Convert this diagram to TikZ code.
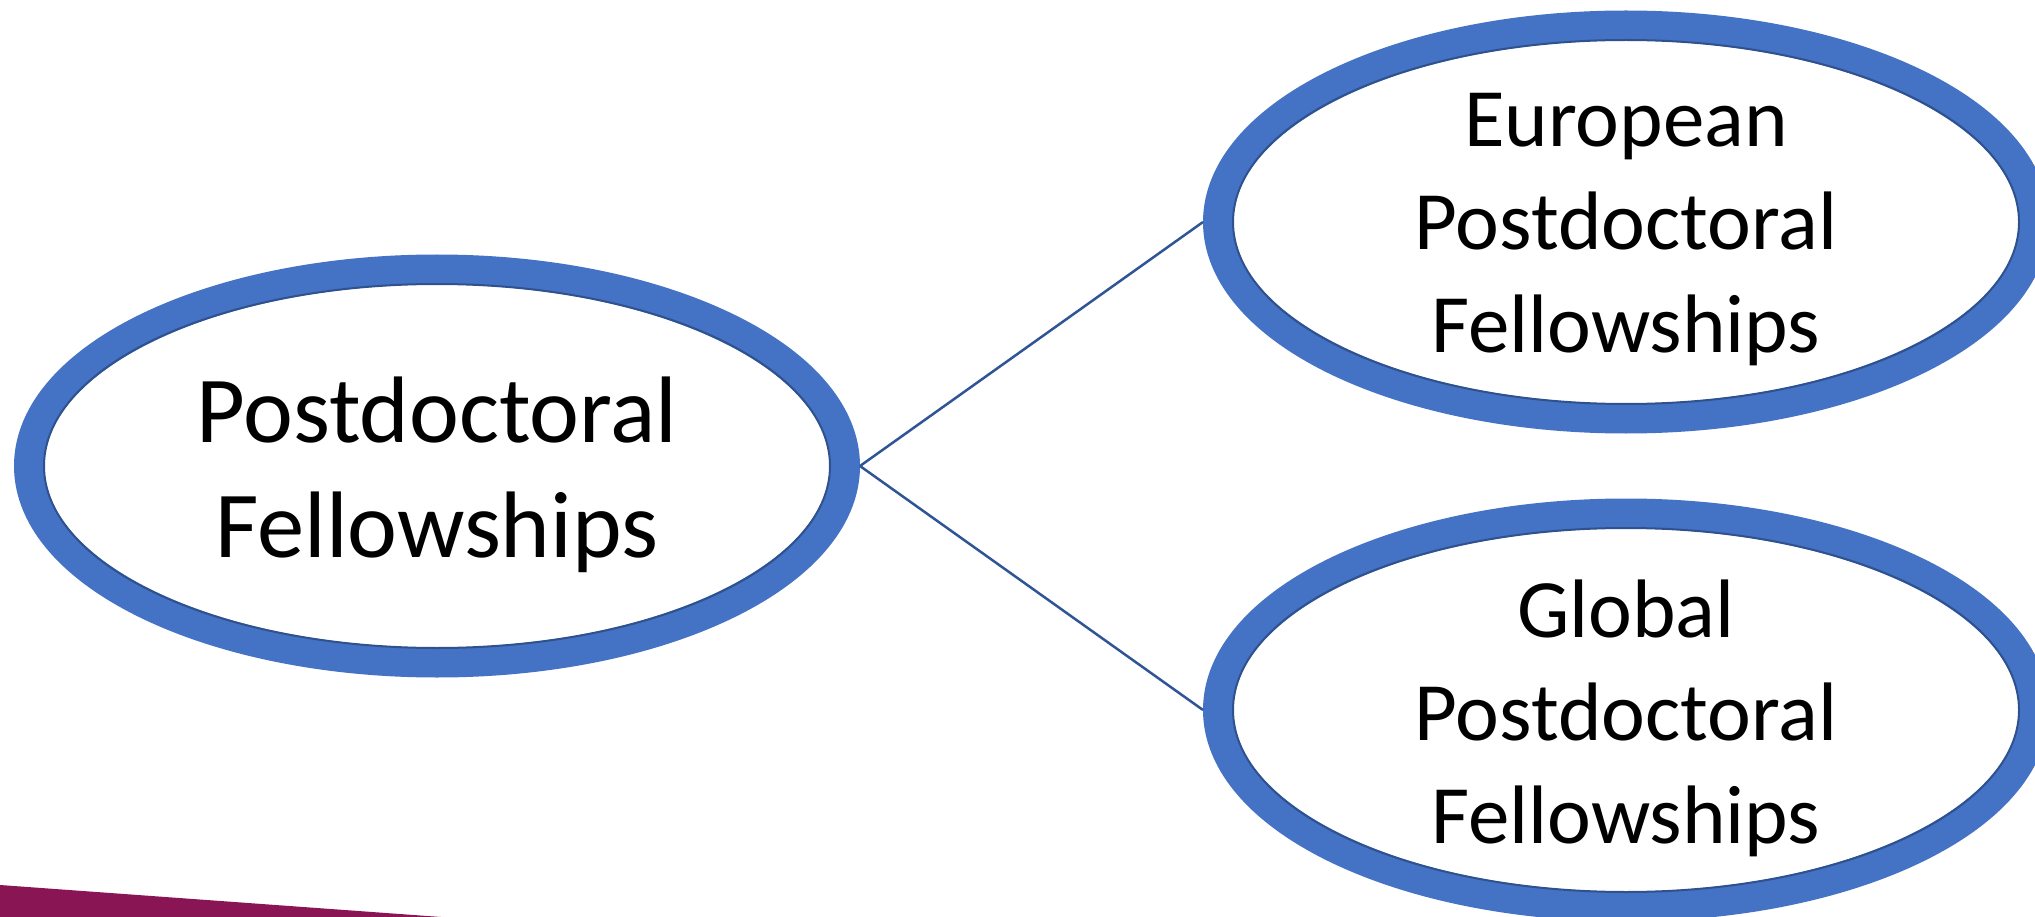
\documentclass[tikz,border=0pt]{standalone}
\usepackage{fontspec}
\setmainfont{Carlito}
\usetikzlibrary{shapes.geometric}
\definecolor{ringblue}{HTML}{4472C4}
\definecolor{ringdark}{HTML}{2F528F}
\definecolor{linkblue}{HTML}{2F5597}
\definecolor{wine}{RGB}{138,21,84}
\tikzset{
  ring/.style={ellipse, draw=ringblue, line width=30pt, fill=white,
    minimum width=816pt, minimum height=393pt, inner sep=0pt},
  ringedge/.style={draw=ringdark, line width=2pt},
  bigtext/.style={align=center, text=black, inner sep=0pt,
    font={\fontsize{94.5pt}{115pt}\selectfont}},
  smalltext/.style={align=center, text=black, inner sep=0pt,
    font={\fontsize{83pt}{103pt}\selectfont}},
  link/.style={draw=linkblue, line width=2.5pt}
}
\begin{document}
\begin{tikzpicture}[x=1pt,y=-1pt]
\useasboundingbox (0,0) rectangle (2035,917);
\clip (0,0) rectangle (2035,917);
\fill[white] (0,0) rectangle (2035,917);
\fill[wine] (0,885) -- (441,917) -- (0,917) -- cycle;

\node[ring] (main) at (437,466) {};
\node[ring] (euro) at (1626,222) {};
\node[ring] (glob) at (1626,710) {};
\draw[ringedge] (main.center) ellipse [x radius=393, y radius=182];
\draw[ringedge] (euro.center) ellipse [x radius=393, y radius=182];
\draw[ringedge] (glob.center) ellipse [x radius=393, y radius=182];

\node[bigtext, yshift=-9pt] (mainT) at (main.center) {Postdoctoral\\Fellowships};
\node[smalltext, yshift=-8pt] (euroT) at (euro.center) {European\\Postdoctoral\\Fellowships};
\node[smalltext, yshift=-8pt] (globT) at (glob.center) {Global\\Postdoctoral\\Fellowships};

\draw[link] (main.east) -- (euro.west);
\draw[link] (main.east) -- (glob.west);
\end{tikzpicture}
\end{document}
